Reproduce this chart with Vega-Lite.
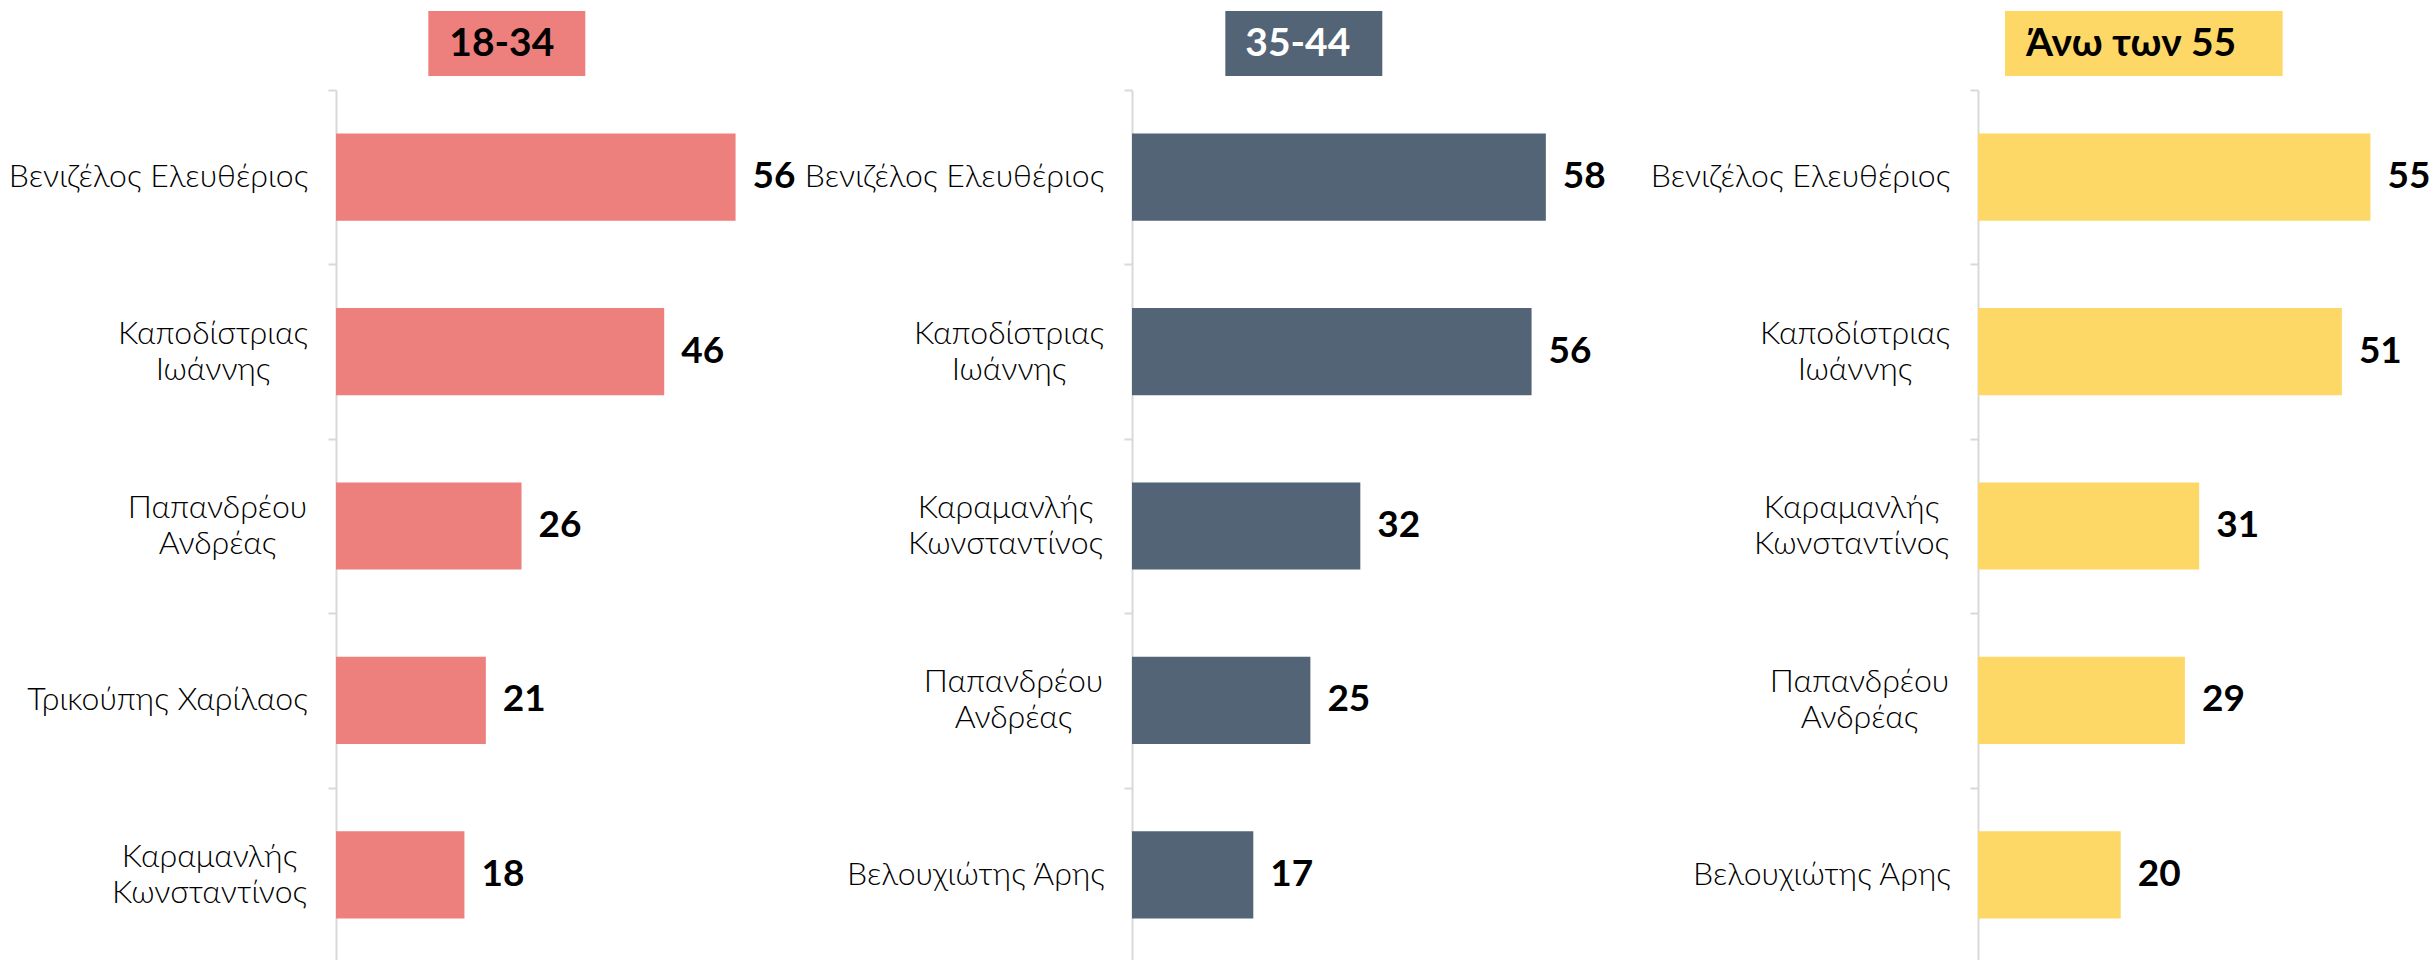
{
  "$schema": "https://vega.github.io/schema/vega-lite/v6.json",
  "background": "white",
  "padding": {"left": 0, "top": 11, "right": 0, "bottom": 0},
  "spacing": 0,
  "config": {"view": {"stroke": null}},
  "datasets": {
    "votes": [
      {"group": "18-34", "name": "Βενιζέλος Ελευθέριος", "value": 56},
      {"group": "18-34", "name": "Καποδίστριας Ιωάννης", "value": 46},
      {"group": "18-34", "name": "Παπανδρέου Ανδρέας", "value": 26},
      {"group": "18-34", "name": "Τρικούπης Χαρίλαος", "value": 21},
      {"group": "18-34", "name": "Καραμανλής Κωνσταντίνος", "value": 18},
      {"group": "35-44", "name": "Βενιζέλος Ελευθέριος", "value": 58},
      {"group": "35-44", "name": "Καποδίστριας Ιωάννης", "value": 56},
      {"group": "35-44", "name": "Καραμανλής Κωνσταντίνος", "value": 32},
      {"group": "35-44", "name": "Παπανδρέου Ανδρέας", "value": 25},
      {"group": "35-44", "name": "Βελουχιώτης Άρης", "value": 17},
      {"group": "Άνω των 55", "name": "Βενιζέλος Ελευθέριος", "value": 55},
      {"group": "Άνω των 55", "name": "Καποδίστριας Ιωάννης", "value": 51},
      {"group": "Άνω των 55", "name": "Καραμανλής Κωνσταντίνος", "value": 31},
      {"group": "Άνω των 55", "name": "Παπανδρέου Ανδρέας", "value": 29},
      {"group": "Άνω των 55", "name": "Βελουχιώτης Άρης", "value": 20}
    ],
    "groups": [
      {"group": "18-34"},
      {"group": "35-44"},
      {"group": "Άνω των 55"}
    ]
  },
  "hconcat": [
    {
      "spacing": 13,
      "vconcat": [
        {
          "width": 460, "height": 65,
          "data": {"name": "groups"},
          "transform": [{"filter": "datum.group == '18-34'"}],
          "layer": [
            {"mark": {"type": "rect", "color": "#ED7F7D"},
             "encoding": {"x": {"datum": 12.94, "type": "quantitative", "scale": {"domain": [0, 64.47], "nice": false}, "axis": null}, "x2": {"datum": 34.94}}},
            {"mark": {"type": "text", "align": "left", "baseline": "middle", "dx": 21, "font": "Lato", "fontWeight": "bold", "fontSize": 39, "color": "#000000"},
             "encoding": {"x": {"datum": 12.94, "type": "quantitative"}, "text": {"field": "group"}}}
          ]
        },
        {
          "width": 460, "height": 872,
          "data": {"name": "votes"},
          "transform": [{"filter": "datum.group == '18-34'"}],
          "resolve": {"axis": {"y": "independent"}},
          "layer": [
            {"mark": {"type": "bar", "color": "#ED7F7D"},
             "encoding": {
               "y": {"field": "name", "type": "nominal", "sort": {"field": "value", "order": "descending"},
                     "scale": {"paddingInner": 0.5, "paddingOuter": 0.25},
                     "axis": {"orient": "left", "title": null, "domain": false, "ticks": false,
                              "labelAlign": "center",
                              "labelPadding": {"expr": "datum.value == 'Βενιζέλος Ελευθέριος' ? 178 : datum.value == 'Καποδίστριας Ιωάννης' ? 123.5 : datum.value == 'Παπανδρέου Ανδρέας' ? 119 : datum.value == 'Τρικούπης Χαρίλαος' ? 169 : datum.value == 'Καραμανλής Κωνσταντίνος' ? 127 : 156.5"},
                              "labelOffset": {"expr": "test(/^(Καποδίστριας|Παπανδρέου|Καραμανλής)/, datum.value) ? -18 : 0"},
                              "labelFont": "Lato", "labelFontWeight": 300, "labelFontSize": 32, "labelColor": "#000000", "labelLineHeight": 36, "labelLimit": 0,
                              "minExtent": 336, "maxExtent": 336,
                              "labelExpr": "test(/^(Καποδίστριας|Παπανδρέου|Καραμανλής)/, datum.value) ? split(datum.value, ' ') : datum.value"}},
               "x": {"field": "value", "type": "quantitative", "scale": {"domain": [0, 64.47], "nice": false}, "axis": null}
             }},
            {"mark": {"type": "text", "align": "left", "baseline": "middle", "dx": 17, "font": "Lato", "fontWeight": "bold", "fontSize": 37, "color": "#000000"},
             "encoding": {
               "y": {"field": "name", "type": "nominal", "sort": {"field": "value", "order": "descending"},
                     "axis": {"orient": "left", "title": null, "labels": false, "domainColor": "#D9D9D9", "domainWidth": 2, "tickColor": "#D9D9D9", "tickWidth": 2, "tickSize": 8,
                              "bandPosition": 0, "tickOffset": -43.6, "tickExtra": false, "minExtent": 336, "maxExtent": 336}},
               "x": {"field": "value", "type": "quantitative"},
               "text": {"field": "value", "type": "quantitative"}
             }}
          ]
        }
      ]
    },
    {
      "spacing": 13,
      "vconcat": [
        {
          "width": 474, "height": 65,
          "data": {"name": "groups"},
          "transform": [{"filter": "datum.group == '35-44'"}],
          "layer": [
            {"mark": {"type": "rect", "color": "#536476"},
             "encoding": {"x": {"datum": 13.08, "type": "quantitative", "scale": {"domain": [0, 66.43], "nice": false}, "axis": null}, "x2": {"datum": 35.08}}},
            {"mark": {"type": "text", "align": "left", "baseline": "middle", "dx": 20, "font": "Lato", "fontWeight": "bold", "fontSize": 39, "color": "#FFFFFF"},
             "encoding": {"x": {"datum": 13.08, "type": "quantitative"}, "text": {"field": "group"}}}
          ]
        },
        {
          "width": 474, "height": 872,
          "data": {"name": "votes"},
          "transform": [{"filter": "datum.group == '35-44'"}],
          "resolve": {"axis": {"y": "independent"}},
          "layer": [
            {"mark": {"type": "bar", "color": "#536476"},
             "encoding": {
               "y": {"field": "name", "type": "nominal", "sort": {"field": "value", "order": "descending"},
                     "scale": {"paddingInner": 0.5, "paddingOuter": 0.25},
                     "axis": {"orient": "left", "title": null, "domain": false, "ticks": false,
                              "labelAlign": "center",
                              "labelPadding": {"expr": "datum.value == 'Βενιζέλος Ελευθέριος' ? 178 : datum.value == 'Καποδίστριας Ιωάννης' ? 123.5 : datum.value == 'Παπανδρέου Ανδρέας' ? 119 : datum.value == 'Τρικούπης Χαρίλαος' ? 169 : datum.value == 'Καραμανλής Κωνσταντίνος' ? 127 : 156.5"},
                              "labelOffset": {"expr": "test(/^(Καποδίστριας|Παπανδρέου|Καραμανλής)/, datum.value) ? -18 : 0"},
                              "labelFont": "Lato", "labelFontWeight": 300, "labelFontSize": 32, "labelColor": "#000000", "labelLineHeight": 36, "labelLimit": 0,
                              "minExtent": 336, "maxExtent": 336,
                              "labelExpr": "test(/^(Καποδίστριας|Παπανδρέου|Καραμανλής)/, datum.value) ? split(datum.value, ' ') : datum.value"}},
               "x": {"field": "value", "type": "quantitative", "scale": {"domain": [0, 66.43], "nice": false}, "axis": null}
             }},
            {"mark": {"type": "text", "align": "left", "baseline": "middle", "dx": 17, "font": "Lato", "fontWeight": "bold", "fontSize": 37, "color": "#000000"},
             "encoding": {
               "y": {"field": "name", "type": "nominal", "sort": {"field": "value", "order": "descending"},
                     "axis": {"orient": "left", "title": null, "labels": false, "domainColor": "#D9D9D9", "domainWidth": 2, "tickColor": "#D9D9D9", "tickWidth": 2, "tickSize": 8,
                              "bandPosition": 0, "tickOffset": -43.6, "tickExtra": false, "minExtent": 336, "maxExtent": 336}},
               "x": {"field": "value", "type": "quantitative"},
               "text": {"field": "value", "type": "quantitative"}
             }}
          ]
        }
      ]
    },
    {
      "spacing": 13,
      "vconcat": [
        {
          "width": 456, "height": 65,
          "data": {"name": "groups"},
          "transform": [{"filter": "datum.group == 'Άνω των 55'"}],
          "layer": [
            {"mark": {"type": "rect", "color": "#FDD866"},
             "encoding": {"x": {"datum": 3.78, "type": "quantitative", "scale": {"domain": [0, 63.91], "nice": false}, "axis": null}, "x2": {"datum": 42.7}}},
            {"mark": {"type": "text", "align": "left", "baseline": "middle", "dx": 21, "font": "Lato", "fontWeight": "bold", "fontSize": 39, "color": "#000000"},
             "encoding": {"x": {"datum": 3.78, "type": "quantitative"}, "text": {"field": "group"}}}
          ]
        },
        {
          "width": 456, "height": 872,
          "data": {"name": "votes"},
          "transform": [{"filter": "datum.group == 'Άνω των 55'"}],
          "resolve": {"axis": {"y": "independent"}},
          "layer": [
            {"mark": {"type": "bar", "color": "#FDD866"},
             "encoding": {
               "y": {"field": "name", "type": "nominal", "sort": {"field": "value", "order": "descending"},
                     "scale": {"paddingInner": 0.5, "paddingOuter": 0.25},
                     "axis": {"orient": "left", "title": null, "domain": false, "ticks": false,
                              "labelAlign": "center",
                              "labelPadding": {"expr": "datum.value == 'Βενιζέλος Ελευθέριος' ? 178 : datum.value == 'Καποδίστριας Ιωάννης' ? 123.5 : datum.value == 'Παπανδρέου Ανδρέας' ? 119 : datum.value == 'Τρικούπης Χαρίλαος' ? 169 : datum.value == 'Καραμανλής Κωνσταντίνος' ? 127 : 156.5"},
                              "labelOffset": {"expr": "test(/^(Καποδίστριας|Παπανδρέου|Καραμανλής)/, datum.value) ? -18 : 0"},
                              "labelFont": "Lato", "labelFontWeight": 300, "labelFontSize": 32, "labelColor": "#000000", "labelLineHeight": 36, "labelLimit": 0,
                              "minExtent": 372, "maxExtent": 372,
                              "labelExpr": "test(/^(Καποδίστριας|Παπανδρέου|Καραμανλής)/, datum.value) ? split(datum.value, ' ') : datum.value"}},
               "x": {"field": "value", "type": "quantitative", "scale": {"domain": [0, 63.91], "nice": false}, "axis": null}
             }},
            {"mark": {"type": "text", "align": "left", "baseline": "middle", "dx": 17, "font": "Lato", "fontWeight": "bold", "fontSize": 37, "color": "#000000"},
             "encoding": {
               "y": {"field": "name", "type": "nominal", "sort": {"field": "value", "order": "descending"},
                     "axis": {"orient": "left", "title": null, "labels": false, "domainColor": "#D9D9D9", "domainWidth": 2, "tickColor": "#D9D9D9", "tickWidth": 2, "tickSize": 8,
                              "bandPosition": 0, "tickOffset": -43.6, "tickExtra": false, "minExtent": 372, "maxExtent": 372}},
               "x": {"field": "value", "type": "quantitative"},
               "text": {"field": "value", "type": "quantitative"}
             }}
          ]
        }
      ]
    }
  ]
}
